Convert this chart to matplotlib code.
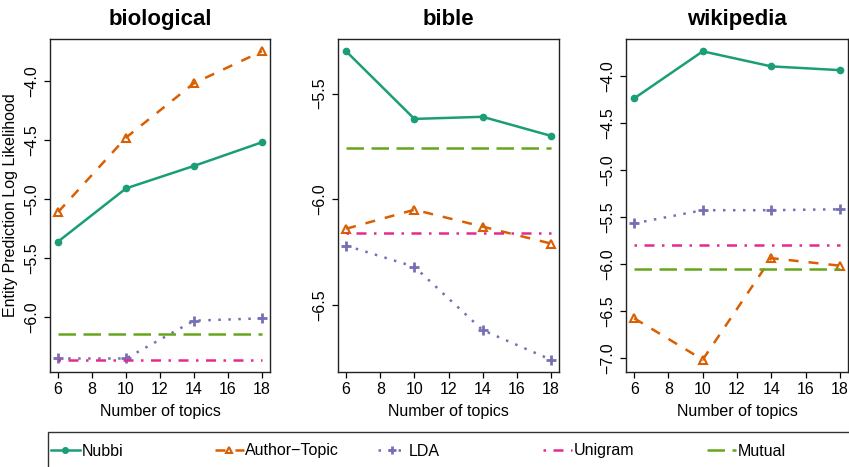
import matplotlib
matplotlib.use("Agg")
import matplotlib.pyplot as plt
from matplotlib.patches import Rectangle

plt.rcParams['font.family'] = ['Liberation Sans', 'DejaVu Sans']

# ---------------- data ----------------
topics = [6, 10, 14, 18]
panel_titles = ["biological", "bible", "wikipedia"]
series_names = ["Nubbi", "Author\u2212Topic", "LDA", "Unigram", "Mutual"]

bio_nubbi = [-5.36, -4.91, -4.72, -4.52]
bio_author = [-5.11, -4.48, -4.02, -3.75]
bio_lda = [-6.35, -6.35, -6.03, -6.01]
bio_unigram = -6.36
bio_mutual = -6.14

bible_nubbi = [-5.30, -5.62, -5.61, -5.70]
bible_author = [-6.14, -6.05, -6.13, -6.21]
bible_lda = [-6.22, -6.32, -6.62, -6.76]
bible_unigram = -6.16
bible_mutual = -5.76

wiki_nubbi = [-4.24, -3.74, -3.90, -3.94]
wiki_author = [-6.58, -7.02, -5.94, -6.02]
wiki_lda = [-5.57, -5.43, -5.43, -5.42]
wiki_unigram = -5.80
wiki_mutual = -6.06

x_ticks = [6, 8, 10, 12, 14, 16, 18]
bio_yticks = [-4.0, -4.5, -5.0, -5.5, -6.0]
bible_yticks = [-5.5, -6.0, -6.5]
wiki_yticks = [-4.0, -4.5, -5.0, -5.5, -6.0, -6.5, -7.0]

panels = [
    (bio_nubbi, bio_author, bio_lda, bio_unigram, bio_mutual, bio_yticks),
    (bible_nubbi, bible_author, bible_lda, bible_unigram, bible_mutual, bible_yticks),
    (wiki_nubbi, wiki_author, wiki_lda, wiki_unigram, wiki_mutual, wiki_yticks),
]

# ---------------- styles ----------------
colors = ["#1B9E77", "#D95F02", "#7570B3", "#E7298A", "#66A61E"]
lstyles = ["-", (0, (4, 4)), (0, (1, 3)), (0, (1, 3, 4, 3)), (0, (7, 3))]
lw = 1.8

W, H = 849, 467
fig = plt.figure(figsize=(W / 100, H / 100), dpi=100)

axes_px = [(50, 270), (338, 559), (626, 848)]
top_px, bot_px = 39, 372

def fmt(v):
    return f"{v:.1f}".replace("-", "\u2212")

handles = []
for i, ((nub, auth, lda, uni, mut, yt), (x0, x1)) in enumerate(zip(panels, axes_px)):
    ax = fig.add_axes([x0 / W, 1 - bot_px / H, (x1 - x0) / W, (bot_px - top_px) / H])
    allv = nub + auth + lda + [uni, mut]
    lo, hi = min(allv), max(allv)
    pad = 0.04 * (hi - lo)
    ax.set_ylim(lo - pad, hi + pad)
    ax.set_xlim(6 - 0.04 * 12, 18 + 0.04 * 12)

    h0, = ax.plot(topics, nub, color=colors[0], ls=lstyles[0], lw=lw,
                  marker="o", ms=4.5, mec=colors[0], mfc=colors[0])
    h1, = ax.plot(topics, auth, color=colors[1], ls=lstyles[1], lw=lw,
                  marker="^", ms=5.5, mfc="none", mec=colors[1], mew=1.5)
    h2, = ax.plot(topics, lda, color=colors[2], ls=lstyles[2], lw=lw,
                  marker="+", ms=7, mec=colors[2], mew=2.0)
    h3, = ax.plot([topics[0], topics[-1]], [uni, uni], color=colors[3], ls=lstyles[3], lw=lw)
    h4, = ax.plot([topics[0], topics[-1]], [mut, mut], color=colors[4], ls=lstyles[4], lw=lw)
    if i == 0:
        handles = [h0, h1, h2, h3, h4]

    ax.set_xticks(x_ticks)
    ax.set_xticklabels([str(t) for t in x_ticks])
    ax.set_yticks(yt)
    ax.set_yticklabels([fmt(v) for v in yt], rotation=90, va="center")
    ax.tick_params(direction="out", length=4, width=0.9, labelsize=11.5, pad=3, colors="black")
    ax.tick_params(axis="y", pad=4)
    for s in ax.spines.values():
        s.set_linewidth(1.0)
        s.set_color("#222222")
    ax.set_xlabel("Number of topics", fontsize=11.5, labelpad=5)
    ax.set_title(panel_titles[i], fontsize=16, fontweight="bold", pad=10)
    if i == 0:
        ax.set_ylabel("Entity Prediction Log Likelihood", fontsize=11.5, labelpad=4)

# ---------------- legend ----------------
fig.patches.append(Rectangle((48 / W, -0.1), 1.0, 1 - 432 / H + 0.1, transform=fig.transFigure,
                             fill=False, edgecolor="#333333", linewidth=1.0, clip_on=False))
leg_x = [51, 215, 378, 543, 707]
for hnd, name, lx in zip(handles, series_names, leg_x):
    fig.legend([hnd], [name], loc="center left", bbox_to_anchor=(lx / W, 1 - 451 / H),
               frameon=False, borderpad=0, borderaxespad=0, handlelength=1.8,
               handletextpad=0.1, fontsize=11.5, numpoints=1, markerscale=0.9)

fig.savefig("out.png", dpi=100)
